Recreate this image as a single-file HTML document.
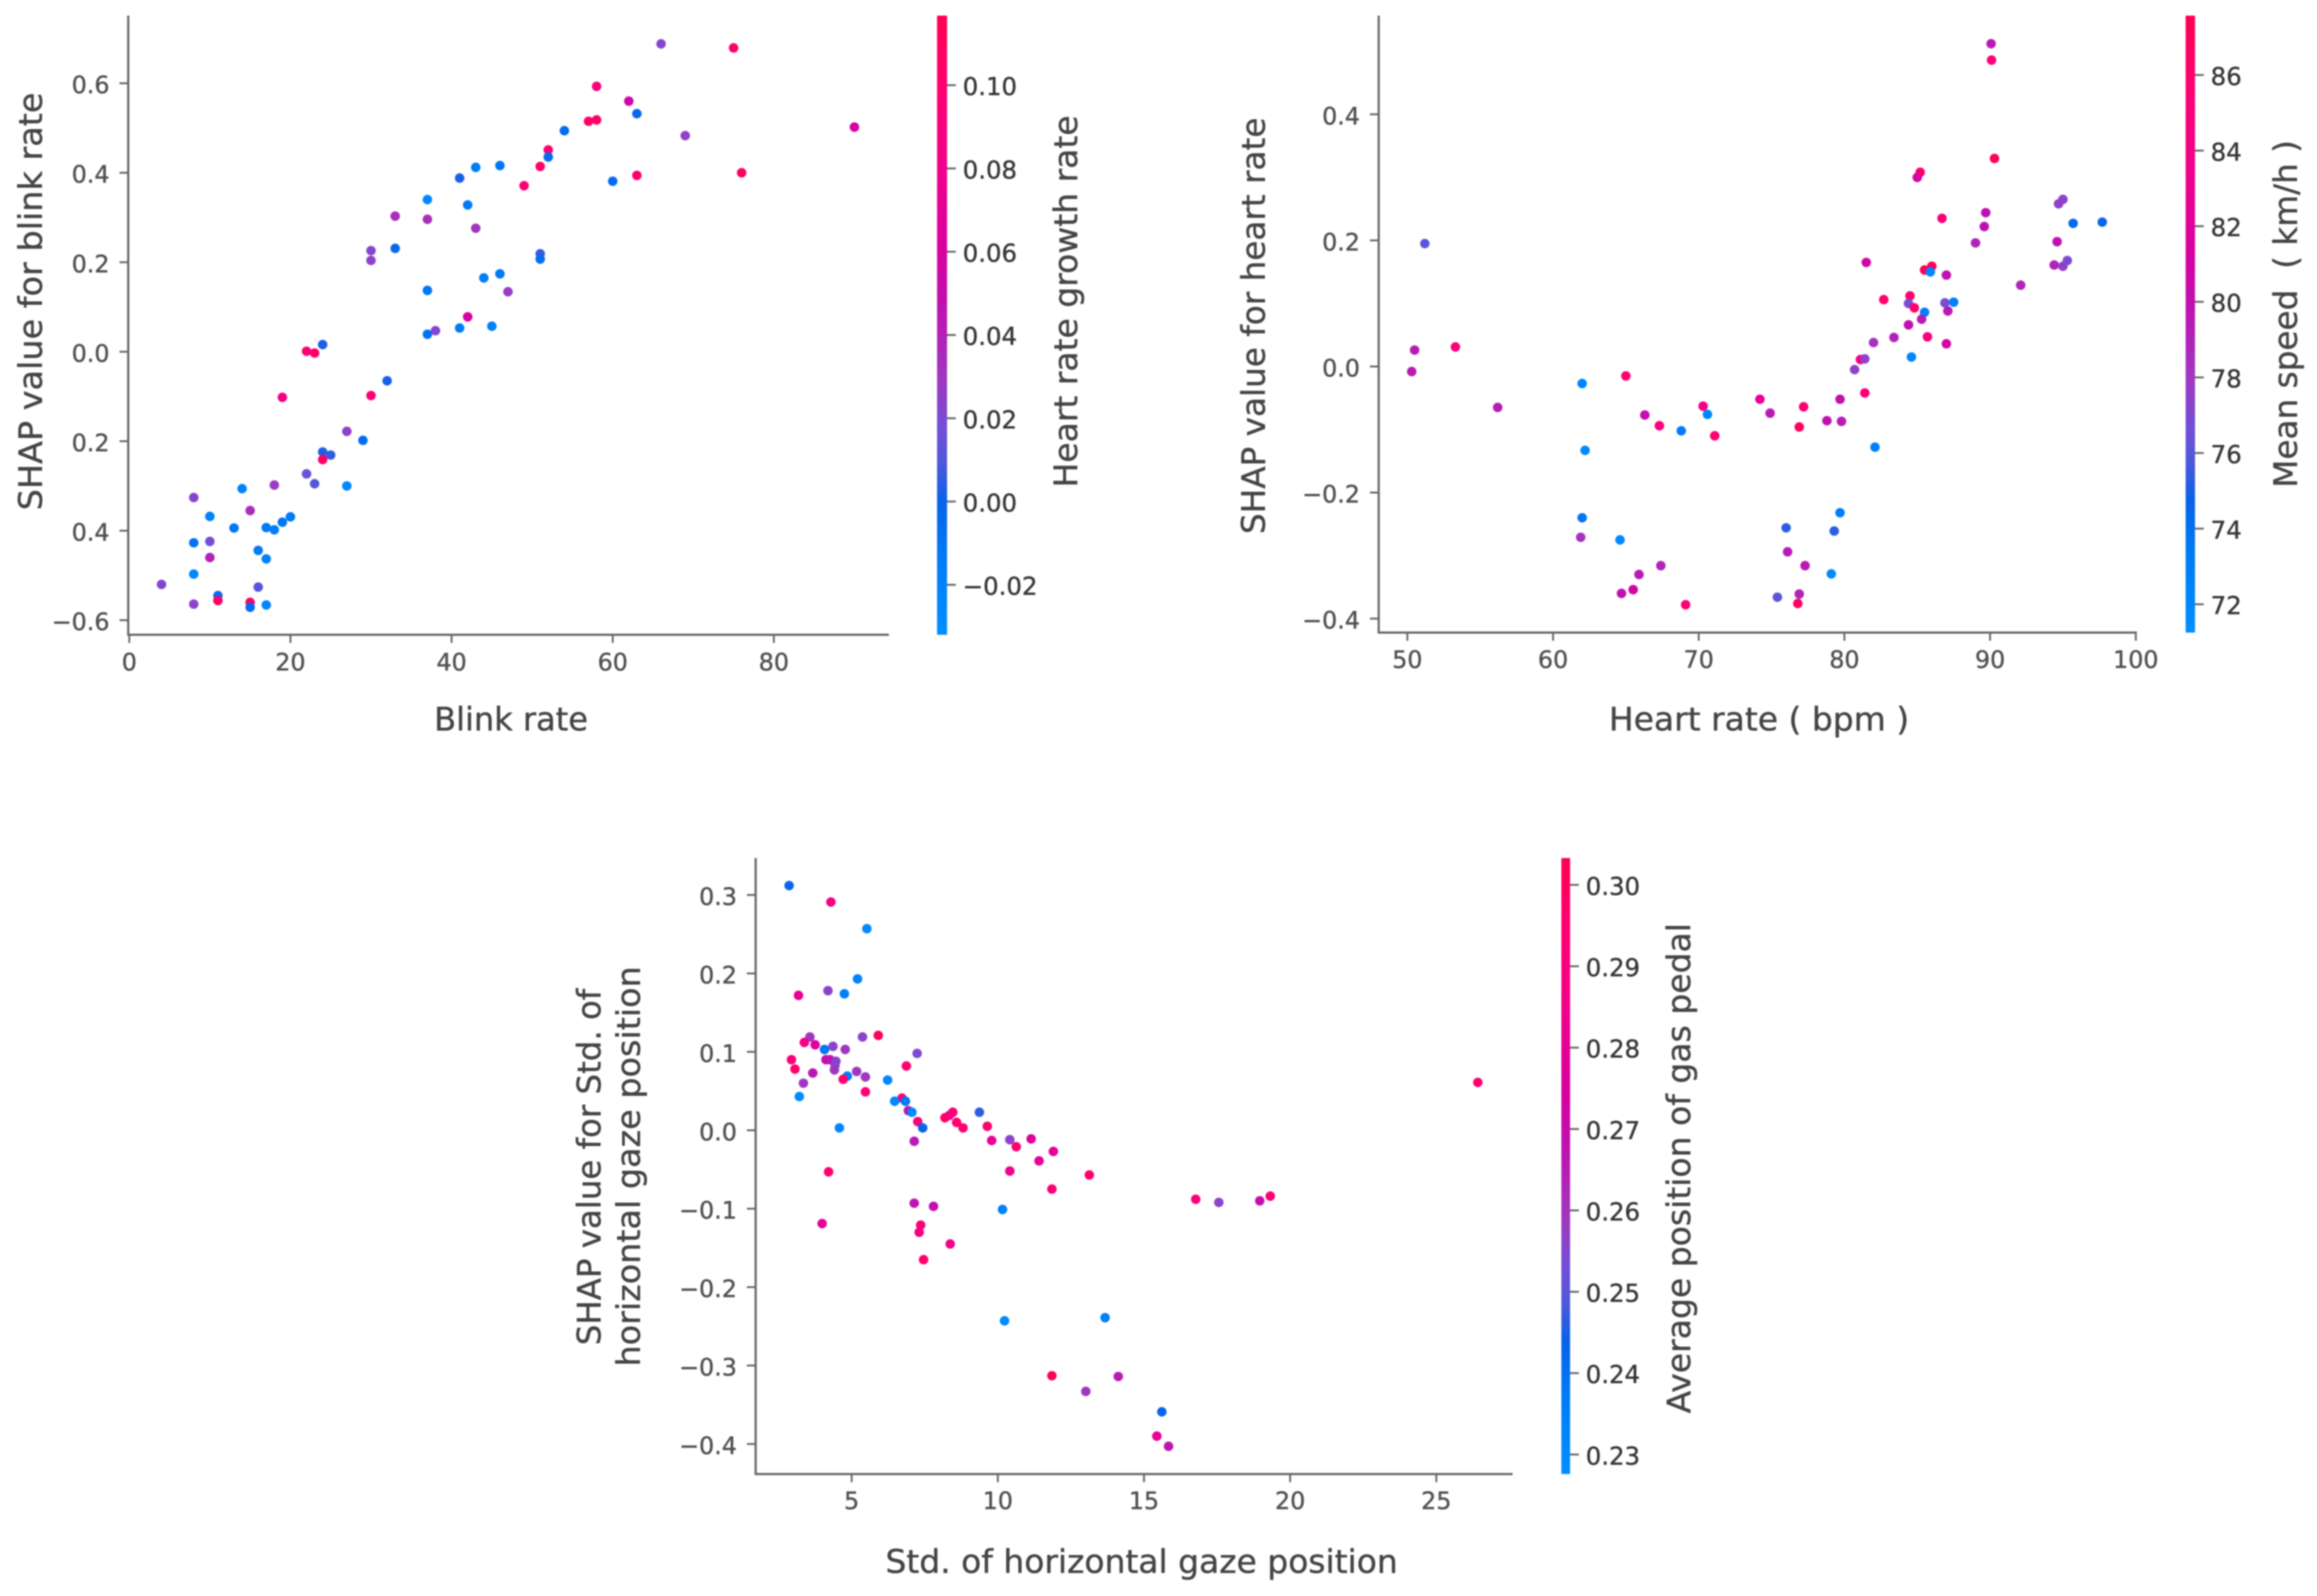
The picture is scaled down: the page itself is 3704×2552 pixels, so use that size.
<!DOCTYPE html>
<html lang="en">
<head>
<meta charset="utf-8">
<title>SHAP dependence plots</title>
<style>
html,body{margin:0;padding:0;background:#fff;width:3704px;height:2552px;overflow:hidden}
svg{display:block;filter:blur(1.1px)}
text{font-family:"DejaVu Sans","Liberation Sans",sans-serif;stroke-width:.6px;paint-order:stroke}
</style>
</head>
<body>
<svg id="figure" xmlns="http://www.w3.org/2000/svg" width="3704" height="2552" viewBox="0 0 3704 2552">
<rect x="0" y="0" width="3704" height="2552" fill="#ffffff"/>
<defs id="defs"></defs>
</svg>
<script>
// ---- Panel 1: blink rate ----
const blinkX = [
66,75,58,62,57,58,63,90,54,69,
52,52,46,43,51,41,76,63,60,49,
37,42,33,37,43,33,30,30,51,51,
46,44,37,47,42,45,41,38,37,24,
22,23,32,30,19,27,29,24,25,24,
22,23,18,27,14,8,15,10,20,19,
13,17,18,8,10,16,10,17,8,4,
16,11,11,15,8,17,15];
const blinkShap = [
.688,.679,.593,.56,.515,.518,.532,.502,.494,.483,
.451,.435,.416,.412,.414,.388,.40,.394,.381,.371,
.34,.328,.303,.296,.276,.231,.226,.204,.219,.207,
.174,.165,.137,.134,.078,.057,.053,.047,.039,.016,
.001,-.003,-.065,-.098,-.102,-.178,-.198,-.224,-.231,-.241,
-.273,-.295,-.298,-.30,-.306,-.326,-.355,-.368,-.369,-.381,
-.394,-.393,-.398,-.427,-.424,-.444,-.46,-.463,-.497,-.52,
-.526,-.545,-.556,-.56,-.564,-.566,-.571];
const blinkColor = [
.022,.105,.09,.055,.105,.105,-.003,.06,-.005,.025,
.095,-.005,-.01,-.015,.105,.002,.11,.105,-.005,.1,
-.027,-.012,.035,.035,.03,-.003,.022,.025,.006,-.005,
-.012,-.017,-.01,.028,.06,-.017,-.015,.022,-.008,.003,
.095,.105,.002,.095,.085,.025,-.005,.003,.006,.105,
.015,.01,.028,-.025,-.022,.022,.035,-.02,-.012,-.01,
-.01,-.012,-.016,-.008,.018,-.014,.04,-.02,-.026,.022,
.012,-.005,.105,.105,.024,-.024,-.003];
const blinkXTicks = [0,20,40,60,80];
const blinkXTickLabels = ["0","20","40","60","80"];
const blinkYTicks = [.6,.4,.2,0,-.2,-.4,-.6];
const blinkYTickLabels = ["0.6","0.4","0.2","0.0","0.2","0.4","\u22120.6"];
const blinkColorTicks = [.1,.08,.06,.04,.02,0,-.02];
const blinkColorTickLabels = ["0.10","0.08","0.06","0.04","0.02","0.00","\u22120.02"];

// ---- Panel 2: heart rate ----
const heartX = [
90.07,90.1,90.3,85.2,85.0,86.7,89.7,89.6,95.0,94.7,
95.7,97.7,51.2,89,94.6,94.4,95.0,95.3,81.5,86,
85.5,85.9,87,92.1,84.5,82.7,84.4,86.9,87.5,84.8,
85.5,87.1,85.3,84.4,85.7,83.4,82,87,84.6,81.1,
81.4,80.7,53.3,50.5,50.3,65,62,56.2,81.4,79.7,
74.2,70.3,77.2,70.6,74.9,66.3,78.8,79.8,67.3,76.9,
68.8,71.1,82.1,62.2,79.7,62,76,79.3,61.9,64.6,
76.1,67.4,77.3,79.1,65.9,65.5,64.7,76.9,75.4,76.8,
69.1];
const heartShap = [
.512,.486,.330,.308,.30,.235,.244,.222,.265,.258,
.227,.229,.195,.196,.198,.161,.159,.168,.165,.159,
.153,.15,.145,.129,.112,.106,.10,.101,.102,.093,
.086,.088,.075,.066,.047,.046,.038,.036,.015,.011,
.012,-.005,.031,.026,-.008,-.015,-.027,-.065,-.042,-.052,
-.052,-.063,-.064,-.076,-.074,-.077,-.086,-.087,-.094,-.096,
-.102,-.11,-.128,-.133,-.232,-.24,-.256,-.261,-.271,-.275,
-.294,-.316,-.316,-.329,-.33,-.354,-.36,-.361,-.366,-.376,
-.378];
const heartColor = [
79.5,85.1,86.8,86.8,81,85.1,80,80,77.5,77.5,
74.4,74.4,76.1,79,80,79,77.5,77,81,86.8,
86.8,72.1,80,79,85.9,85.9,77,77,72.6,85.9,
72.6,79.5,79.5,80,85.1,79,78.4,81,72.1,84.3,
77.5,77.5,85.1,79.5,79.5,85.9,72.1,79.5,85.1,80,
82.7,84.3,85.9,72.1,79.5,80,80,79.5,85.1,86.8,
72.9,85.9,72.6,71.6,72.9,73.7,75.3,75.3,78.4,71.7,
79.5,79,79.5,71.6,79.5,81,80,79,76.1,86.8,
85.9];
const heartXTicks = [50,60,70,80,90,100];
const heartXTickLabels = ["50","60","70","80","90","100"];
const heartYTicks = [.4,.2,0,-.2,-.4];
const heartYTickLabels = ["0.4","0.2","0.0","\u22120.2","\u22120.4"];
const heartColorTicks = [86,84,82,80,78,76,74,72];
const heartColorTickLabels = ["86","84","82","80","78","76","74","72"];

// ---- Panel 3: std. of horizontal gaze position ----
const gazeX = [
2.86,4.29,5.52,5.2,4.19,4.75,3.18,5.91,5.37,3.57,
3.38,3.75,4.36,4.78,4.07,7.24,2.94,4.12,4.26,4.46,
4.43,6.87,3.06,4.41,5.17,3.67,4.85,4.71,5.47,6.23,
3.35,5.47,3.21,6.72,6.47,6.84,6.94,7.06,9.37,8.46,
8.34,8.19,7.26,8.59,8.81,9.64,4.58,7.43,10.41,9.79,
11.14,7.14,10.63,11.9,11.41,10.41,4.21,13.13,11.85,16.77,
19.32,17.56,18.96,7.14,7.8,10.16,3.99,7.36,7.31,8.37,
7.46,10.23,13.67,11.85,14.12,13.01,15.61,15.44,15.84,26.42];
const gazeShap = [
.312,.291,.257,.193,.178,.174,.172,.121,.119,.119,
.112,.109,.107,.103,.103,.098,.09,.09,.09,.088,
.083,.082,.078,.077,.075,.073,.069,.065,.068,.064,
.06,.049,.043,.041,.037,.037,.025,.023,.023,.023,
.019,.016,.011,.01,.003,.005,.003,.003,-.012,-.013,
-.011,-.014,-.021,-.027,-.039,-.052,-.053,-.057,-.075,-.088,
-.084,-.092,-.09,-.093,-.097,-.101,-.119,-.121,-.13,-.145,
-.165,-.243,-.239,-.313,-.314,-.333,-.359,-.39,-.403,.061];
const gazeColor = [
.2427,.2882,.230,.2337,.256,.2352,.2806,.2995,.256,.259,
.2882,.2768,.256,.259,.239,.254,.292,.2695,.267,.256,
.256,.2957,.2957,.259,.259,.267,.2352,.2957,.259,.2314,
.259,.292,.230,.292,.2314,.2367,.2695,.2314,.2465,.2957,
.2882,.2957,.292,.2957,.2957,.2957,.2314,.2427,.256,.2806,
.2768,.2655,.2957,.2806,.2806,.2844,.2957,.2957,.292,.292,
.2957,.256,.2695,.267,.2695,.2337,.2806,.292,.2882,.2844,
.2957,.230,.2352,.2995,.2655,.259,.2427,.2806,.267,.2957];
const gazeXTicks = [5,10,15,20,25];
const gazeXTickLabels = ["5","10","15","20","25"];
const gazeYTicks = [.3,.2,.1,0,-.1,-.2,-.3,-.4];
const gazeYTickLabels = ["0.3","0.2","0.1","0.0","\u22120.1","\u22120.2","\u22120.3","\u22120.4"];
const gazeColorTicks = [.30,.29,.28,.27,.26,.25,.24,.23];
const gazeColorTickLabels = ["0.30","0.29","0.28","0.27","0.26","0.25","0.24","0.23"];

const NS = "http://www.w3.org/2000/svg";
const svg = document.getElementById("figure");
const defs = document.getElementById("defs");
const cmapStops = [[0,"#008fff"],[.14,"#0078f5"],[.215,"#0862ea"],[.28,"#5058d8"],[.33,"#7050d8"],[.413,"#a038c0"],[.535,"#c010b0"],[.62,"#d800a0"],[.75,"#f0008c"],[.89,"#ff0070"],[1,"#ff0051"]];

function hex(c){return [parseInt(c.slice(1,3),16),parseInt(c.slice(3,5),16),parseInt(c.slice(5,7),16)];}
function cmap(t){
  t=Math.max(0,Math.min(1,t));
  for(let i=1;i<cmapStops.length;i++){
    if(t<=cmapStops[i][0]){
      const a=cmapStops[i-1],b=cmapStops[i],f=(t-a[0])/(b[0]-a[0]);
      const A=hex(a[1]),B=hex(b[1]);
      return "rgb("+A.map((v,k)=>Math.round(v+(B[k]-v)*f)).join(",")+")";
    }
  }
  return cmapStops[cmapStops.length-1][1];
}
function mk(tag,attrs,parent){
  const el=document.createElementNS(NS,tag);
  for(const k in attrs){el.setAttribute(k,attrs[k]);}
  (parent||svg).appendChild(el);
  return el;
}
function line(parent,x1,y1,x2,y2,w,color){
  return mk("line",{x1:x1,y1:y1,x2:x2,y2:y2,stroke:color,"stroke-width":w},parent);
}
function label(parent,str,x,y,size,color,anchor){
  const t=mk("text",{x:x,y:y,"font-size":size,fill:color,stroke:color,"text-anchor":anchor},parent);
  t.textContent=str;
  return t;
}
function vtitle(parent,str,x,cy,size,len,color){
  const t=mk("text",{x:0,y:0,"font-size":size,fill:color,stroke:color,"text-anchor":"middle",textLength:len,lengthAdjust:"spacingAndGlyphs",transform:"translate("+x+" "+cy+") rotate(-90)"},parent);
  t.textContent=str;
  return t;
}

function drawPanel(c){
  const AXIS="#666666", TICKTXT="#505050", CBTXT="#363636", TITLE="#444444";
  const xScale=v=>c.x0+(v-c.xRef)*c.xPerUnit;
  const yScale=v=>c.y0-v*c.yPerUnit;
  const cNorm=v=>(v-c.cMin)/(c.cMax-c.cMin);
  const cScale=v=>c.bar.bottom-cNorm(v)*(c.bar.bottom-c.plot.top);

  const g=mk("g",{});
  
  

  // spines
  const sl=line(g,c.plot.left,c.plot.top,c.plot.left,c.plot.bottom+1.5,3.5,AXIS);
  
  
  const sb=line(g,c.plot.left,c.plot.bottom,c.plot.right,c.plot.bottom,3.5,AXIS);
  
  

  // x ticks
  c.xTicks.forEach((v,i)=>{
    const tk=line(g,xScale(v),c.plot.bottom,xScale(v),c.plot.bottom+13,3,AXIS);
    
    
    const tl=label(g,c.xTickLabels[i],xScale(v),c.xLabelY,38,TICKTXT,"middle");
    
    
  });
  // y ticks
  c.yTicks.forEach((v,i)=>{
    const tk=line(g,c.plot.left-14,yScale(v),c.plot.left,yScale(v),3,AXIS);
    
    
    const tl=label(g,c.yTickLabels[i],c.plot.left-30,yScale(v)+16,38,TICKTXT,"end");
    
    
  });

  // points
  c.xs.forEach((v,i)=>{
    const p=mk("circle",{cx:xScale(v),cy:yScale(c.ys[i]),r:7.6,fill:cmap(cNorm(c.cs[i]))},g);
    
    
  });

  // colour bar
  const gid="grad-"+c.name;
  const grad=mk("linearGradient",{id:gid,x1:0,y1:1,x2:0,y2:0},defs);
  cmapStops.forEach(s=>{mk("stop",{offset:s[0],"stop-color":s[1]},grad);});
  const bar=mk("rect",{x:c.bar.left,y:c.plot.top,width:c.bar.width,height:c.bar.bottom-c.plot.top,fill:"url(#"+gid+")"},g);
  
  
  c.cTicks.forEach((v,i)=>{
    const tk=line(g,c.bar.left+c.bar.width,cScale(v),c.bar.left+c.bar.width+14,cScale(v),3,AXIS);
    
    
    const tl=label(g,c.cTickLabels[i],c.bar.left+c.bar.width+25,cScale(v)+16,39,CBTXT,"start");
    
    
  });

  // titles
  const xt=label(g,c.xTitle,c.xTitlePos[0],c.xTitlePos[1],52,TITLE,"middle");
  xt.setAttribute('textLength', c.xTitleLen);
  xt.setAttribute('lengthAdjust', 'spacingAndGlyphs');
  
  
  c.yTitles.forEach(y=>{
    const yt=vtitle(g,y[0],y[1],y[2],52,y[3],TITLE);
    
    
  });
  const ct=vtitle(g,c.cTitle[0],c.cTitle[1],c.cTitle[2],52,c.cTitle[3],TITLE);
  
  
}

drawPanel({
  name:"blink-rate",xs:blinkX,ys:blinkShap,cs:blinkColor,
  xTicks:blinkXTicks,xTickLabels:blinkXTickLabels,yTicks:blinkYTicks,yTickLabels:blinkYTickLabels,
  cTicks:blinkColorTicks,cTickLabels:blinkColorTickLabels,
  plot:{left:205,right:1421,top:25,bottom:1015},
  x0:206.7,xRef:0,xPerUnit:12.88,y0:562.4,yPerUnit:715.5,
  bar:{left:1498,width:16,bottom:1015},cMin:-.032,cMax:.1167,
  xLabelY:1072,xTitle:"Blink rate",xTitlePos:[817,1168],xTitleLen:246,
  yTitles:[["SHAP value for blink rate",67,482,668]],
  cTitle:["Heart rate growth rate",1722,482,595]
});
drawPanel({
  name:"heart-rate",xs:heartX,ys:heartShap,cs:heartColor,
  xTicks:heartXTicks,xTickLabels:heartXTickLabels,yTicks:heartYTicks,yTickLabels:heartYTickLabels,
  cTicks:heartColorTicks,cTickLabels:heartColorTickLabels,
  plot:{left:2204,right:3416,top:25,bottom:1011.5},
  x0:2249.8,xRef:50,xPerUnit:23.29,y0:586,yPerUnit:1008,
  bar:{left:3494,width:15,bottom:1011.5},cMin:71.25,cMax:87.57,
  xLabelY:1068,xTitle:"Heart rate ( bpm )",xTitlePos:[2812,1168],xTitleLen:480,
  yTitles:[["SHAP value for heart rate",2022,521,666]],
  cTitle:["Mean speed\u00a0\u00a0( km/h )",3672,502,556]
});
drawPanel({
  name:"gaze-position",xs:gazeX,ys:gazeShap,cs:gazeColor,
  xTicks:gazeXTicks,xTickLabels:gazeXTickLabels,yTicks:gazeYTicks,yTickLabels:gazeYTickLabels,
  cTicks:gazeColorTicks,cTickLabels:gazeColorTickLabels,
  plot:{left:1208,right:2418,top:1372,bottom:2357},
  x0:1361.5,xRef:5,xPerUnit:46.73,y0:1807.3,yPerUnit:1254,
  bar:{left:2496,width:14,bottom:2357},cMin:.2276,cMax:.3033,
  xLabelY:2413,xTitle:"Std. of horizontal gaze position",xTitlePos:[1825,2515],xTitleLen:819,
  yTitles:[["SHAP value for Std. of",960,1866,570],["horizontal gaze position",1023,1865,640]],
  cTitle:["Average position of gas pedal",2702,1868,784]
});
</script>
</body>
</html>
